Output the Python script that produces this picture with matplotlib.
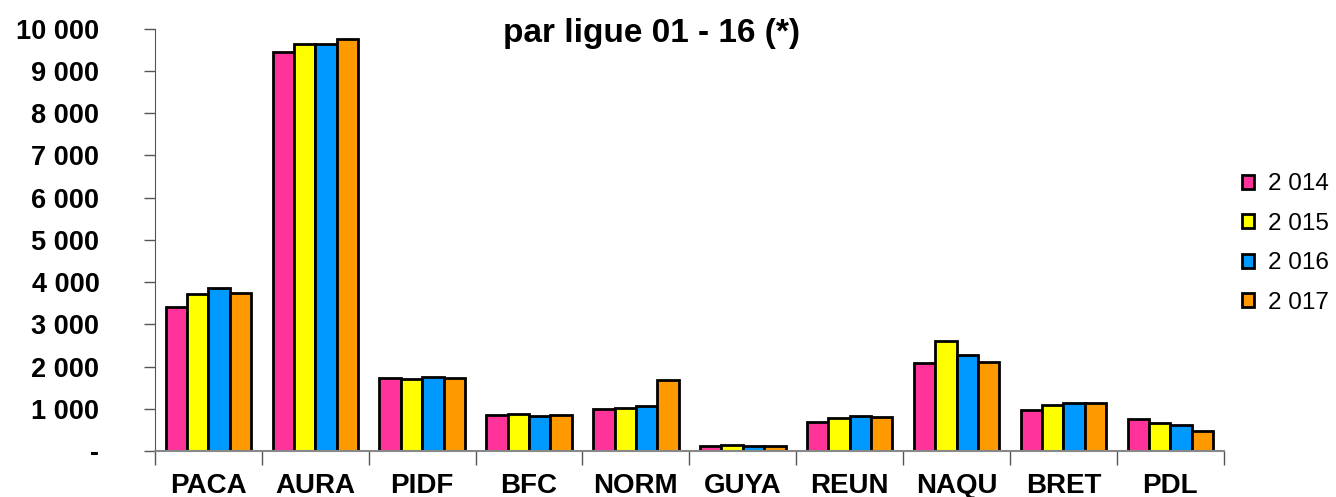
import numpy as np
import matplotlib
matplotlib.use("Agg")
from matplotlib import pyplot as plt
from matplotlib.ticker import FuncFormatter, FixedLocator

plt.rcParams['font.family'] = ['Liberation Sans', 'DejaVu Sans']

ligues = ["PACA", "AURA", "PIDF", "BFC", "NORM", "GUYA", "REUN", "NAQU", "BRET", "PDL"]
annees = ["2 014", "2 015", "2 016", "2 017"]

v2014 = [3410, 9455, 1730, 850, 995, 115, 690, 2085, 970, 760]
v2015 = [3720, 9640, 1705, 875, 1020, 135, 780, 2600, 1090, 665]
v2016 = [3860, 9645, 1750, 830, 1065, 110, 830, 2275, 1135, 615]
v2017 = [3745, 9760, 1730, 850, 1680, 120, 805, 2110, 1135, 475]

couleurs = ["#FF3399", "#FFFF00", "#0099FF", "#FF9900"]

series = [v2014, v2015, v2016, v2017]

fig = plt.figure(figsize=(13.36, 4.97), dpi=100)
ax = fig.add_axes([0.116, 0.0926, 0.8, 0.8494])

x = np.arange(len(ligues))
w = 0.2
for i, (vals, c, lab) in enumerate(zip(series, couleurs, annees)):
    ax.bar(x + (i - 1.5) * w, vals, width=w, color=c, edgecolor="black",
           linewidth=2, label=lab)

ax.set_xlim(-0.5, len(ligues) - 0.5)
ax.set_ylim(0, 10000)
ax.set_yticks(np.arange(0, 10001, 1000))


def fmt(v, pos):
    if v == 0:
        return "-"
    return "{:,.0f}".format(v).replace(",", " ")


ax.yaxis.set_major_formatter(FuncFormatter(fmt))
ax.set_xticks(x)
ax.set_xticklabels(ligues)
ax.xaxis.set_minor_locator(FixedLocator(np.arange(-0.5, len(ligues), 1)))
ax.tick_params(axis="x", which="major", length=0, pad=16, labelsize=20)
ax.tick_params(axis="x", which="minor", length=10, width=1, color="#555555", direction="out")
ax.tick_params(axis="y", length=8, width=1, pad=32, labelsize=19.5, color="#555555")
for lbl in ax.get_xticklabels() + ax.get_yticklabels():
    lbl.set_fontweight("bold")

for s in ["top", "right"]:
    ax.spines[s].set_visible(False)
ax.spines["left"].set_color("#555555")
ax.spines["bottom"].set_color("#888888")
ax.spines["bottom"].set_linewidth(1.5)

# premiere ligne du titre, presque entierement coupee par le bord comme sur l'original
fig.text(0.488, 1.008, "Evolution du nombre de licences adultes", ha="center",
         va="baseline", fontsize=24, fontweight="bold")
fig.text(0.488, 0.9155, "par ligue 01 - 16 (*)", ha="center", va="baseline",
         fontsize=24, fontweight="bold")

leg = fig.legend(loc="center left", bbox_to_anchor=(0.913, 0.51), frameon=False,
                 fontsize=17.5, handlelength=0.5, handleheight=0.5,
                 labelspacing=0.72, handletextpad=0.6)

fig.savefig("out.png", dpi=100)
